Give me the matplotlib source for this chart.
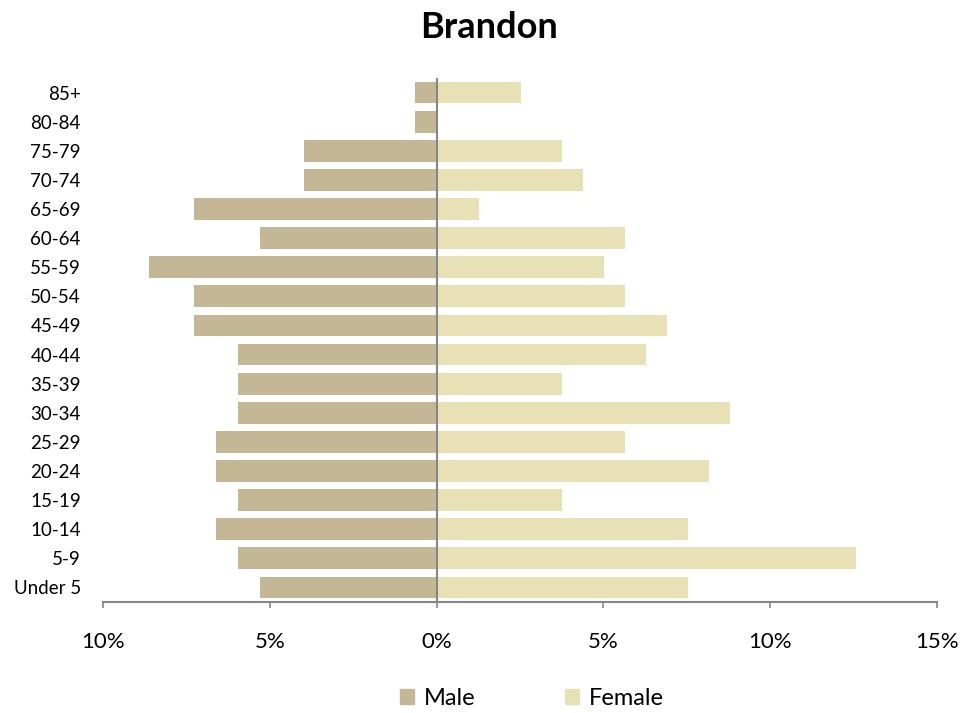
import matplotlib
matplotlib.use("Agg")
import matplotlib.pyplot as plt
from matplotlib.ticker import FuncFormatter
from matplotlib.patches import Patch

plt.rcParams['font.family'] = ['Lato', 'DejaVu Sans']

categories = ["Under 5", "5-9", "10-14", "15-19", "20-24", "25-29", "30-34", "35-39",
              "40-44", "45-49", "50-54", "55-59", "60-64", "65-69", "70-74", "75-79",
              "80-84", "85+"]
male = [5.30, 5.96, 6.62, 5.96, 6.62, 6.62, 5.96, 5.96, 5.96, 7.28, 7.28, 8.61,
        5.30, 7.28, 3.97, 3.97, 0.66, 0.66]
female = [7.55, 12.58, 7.55, 3.77, 8.18, 5.66, 8.81, 3.77, 6.29, 6.92, 5.66, 5.03,
          5.66, 1.26, 4.40, 3.77, 0.0, 2.52]
xticks = [-10, -5, 0, 5, 10, 15]

male_color = "#C4B796"
female_color = "#E8E1B6"
axis_color = "#868686"

fig = plt.figure(figsize=(9.79, 7.13), dpi=100)
ax = fig.add_axes([0.1052, 0.1557, 0.8519, 0.7349])

y = list(range(len(categories)))
ax.barh(y, [-m for m in male], height=0.75, color=male_color, label="Male")
ax.barh(y, female, height=0.75, color=female_color, label="Female")

ax.set_xlim(-10, 15)
ax.set_ylim(-0.5, len(categories) - 0.5)
ax.set_xticks(xticks)
ax.xaxis.set_major_formatter(FuncFormatter(lambda v, p: f"{abs(int(round(v)))}%"))
ax.set_yticks(y)
ax.set_yticklabels(categories, fontsize=13.5)
ax.tick_params(axis='y', length=0, pad=16)
ax.tick_params(axis='x', length=4.5, color=axis_color, width=1.2, labelsize=16, pad=17)

for s in ['top', 'right', 'left']:
    ax.spines[s].set_visible(False)
ax.spines['bottom'].set_color(axis_color)
ax.spines['bottom'].set_linewidth(1.5)
ax.axvline(0, color=axis_color, linewidth=1.5)

fig.suptitle("Brandon", fontsize=26, fontweight='bold', y=0.962, va='center')

handles = [Patch(color=male_color, label="Male"), Patch(color=female_color, label="Female")]
fig.legend(handles=handles, loc='center', bbox_to_anchor=(0.543, 0.021), ncol=2,
           frameon=False, fontsize=17, handlelength=0.6, handleheight=0.6,
           columnspacing=3.8, handletextpad=0.4)

fig.savefig("out.png", dpi=100)
